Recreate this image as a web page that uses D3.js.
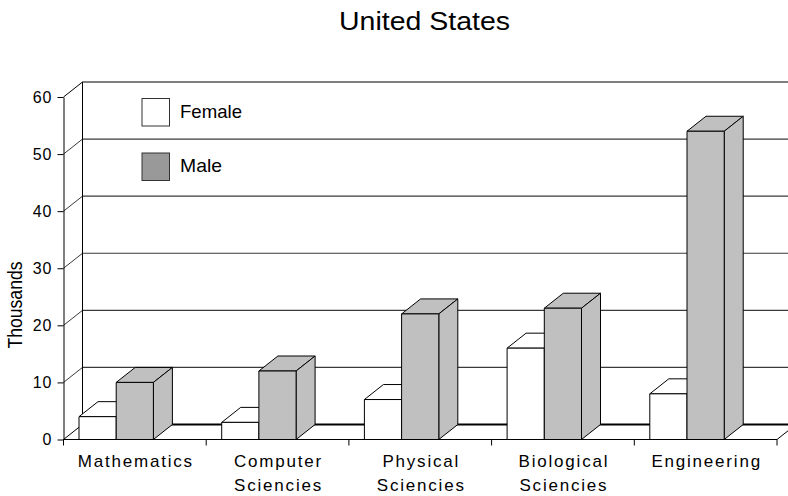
<!DOCTYPE html>
<html>
<head>
<meta charset="utf-8">
<script src="https://cdn.jsdelivr.net/npm/d3@7"></script>
<style>
  html, body { margin: 0; padding: 0; background: #fff; }
  svg { display: block; font-family: "Liberation Sans", Arial, sans-serif; }
</style>
</head>
<body>
<svg id="chart" width="788" height="496"></svg>
<script>
// Graduates by field and sex (thousands)
const categories = ["Mathematics", "Computer Sciencies", "Physical Sciencies", "Biological Sciencies", "Engineering"];
const series = ["Female", "Male"];
const female = [4, 3, 7, 16, 8];
const male = [10, 12, 22, 23, 54];
const yTicks = [0, 10, 20, 30, 40, 50, 60];
const seriesFill = { Female: "#ffffff", Male: "#c0c0c0" };
const legendFill = { Female: "#ffffff", Male: "#999999" };

const svg = d3.select("#chart");
svg.append("rect").attr("width", 788).attr("height", 496).attr("fill", "#fff");

// oblique depth offset of the 3-D box
const dx = 19, dy = -15;

const x = d3.scaleBand().domain(categories).range([63.5, 777]).paddingInner(0).paddingOuter(0);
const xs = d3.scaleBand().domain(series).range([0, x.bandwidth()])
  .paddingInner(0).paddingOuter(0.918).align(0.227);
const y = d3.scaleLinear().domain([0, 60]).range([439.5, 97]);

const y0 = y(0), yTop = y(60);
const xL = 63.5, xR = 777;

const clip = svg.append("defs").append("clipPath").attr("id", "frame")
  .append("rect").attr("x", 0).attr("y", 0).attr("width", 788).attr("height", 496);

const g = svg.append("g").attr("clip-path", "url(#frame)");

// back wall
g.append("rect")
  .attr("x", xL + dx).attr("y", yTop + dy)
  .attr("width", xR - xL + 40).attr("height", y0 - yTop)
  .attr("fill", "#fff");

// gridlines on back wall and left wall
yTicks.filter(t => t > 0 && t < 60).forEach(t => {
  const yy = y(t);
  g.append("line")
    .attr("x1", xL + dx).attr("x2", 800)
    .attr("y1", yy + dy).attr("y2", yy + dy)
    .attr("stroke", "#3a3a3a").attr("stroke-width", 1.2);
  g.append("line")
    .attr("x1", xL).attr("y1", yy).attr("x2", xL + dx).attr("y2", yy + dy)
    .attr("stroke", "#3a3a3a").attr("stroke-width", 1);
});

// top edge of back wall and left wall
g.append("line").attr("x1", xL + dx).attr("x2", 800)
  .attr("y1", yTop + dy).attr("y2", yTop + dy)
  .attr("stroke", "#000").attr("stroke-width", 1.2);
g.append("line").attr("x1", xL).attr("y1", yTop).attr("x2", xL + dx).attr("y2", yTop + dy)
  .attr("stroke", "#000").attr("stroke-width", 1);
g.append("line").attr("x1", xL + dx).attr("x2", xL + dx)
  .attr("y1", yTop + dy).attr("y2", y0 + dy)
  .attr("stroke", "#000").attr("stroke-width", 1);

// floor
g.append("path")
  .attr("d", `M${xL},${y0}L${xR},${y0}L${xR + dx},${y0 + dy}L${xL + dx},${y0 + dy}Z`)
  .attr("fill", "#fff").attr("stroke", "none");
g.append("line").attr("x1", xL + dx).attr("x2", xR + dx)
  .attr("y1", y0 + dy).attr("y2", y0 + dy)
  .attr("stroke", "#000").attr("stroke-width", 2);
g.append("line").attr("x1", xL).attr("y1", y0).attr("x2", xL + dx).attr("y2", y0 + dy)
  .attr("stroke", "#000").attr("stroke-width", 1);
g.append("line").attr("x1", xR).attr("y1", y0).attr("x2", xR + dx).attr("y2", y0 + dy)
  .attr("stroke", "#000").attr("stroke-width", 1);

// bars as oblique boxes
function box(parent, bx, w, v, fill) {
  const yv = y(v);
  const s = parent.append("g").attr("stroke", "#000").attr("stroke-width", 1)
    .attr("stroke-linejoin", "round").attr("fill", fill);
  s.append("path").attr("d",
    `M${bx},${yv}L${bx + dx},${yv + dy}L${bx + w + dx},${yv + dy}L${bx + w},${yv}Z`);
  s.append("path").attr("d",
    `M${bx + w},${yv}L${bx + w + dx},${yv + dy}L${bx + w + dx},${y0 + dy}L${bx + w},${y0}Z`);
  s.append("rect").attr("x", bx).attr("y", yv).attr("width", w).attr("height", y0 - yv);
}

const values = { Female: female, Male: male };
categories.forEach((c, i) => {
  series.forEach(sName => {
    box(g, x(c) + xs(sName), xs.bandwidth(), values[sName][i], seriesFill[sName]);
  });
});

// front floor edge
svg.append("line").attr("x1", xL).attr("x2", xR).attr("y1", y0).attr("y2", y0)
  .attr("stroke", "#000").attr("stroke-width", 1);

// category boundary ticks
const bounds = categories.map(c => x(c)).concat([xR]);
svg.selectAll("line.xtick").data(bounds).enter().append("line")
  .attr("class", "xtick")
  .attr("x1", d => d).attr("x2", d => d)
  .attr("y1", y0).attr("y2", y0 + 6)
  .attr("stroke", "#000").attr("stroke-width", 1);

// category labels
const labels = svg.append("g").attr("font-size", 17).attr("fill", "#000")
  .attr("letter-spacing", "1.8px").attr("text-anchor", "middle");
categories.forEach(c => {
  const parts = c.split(" ");
  const t = labels.append("text").attr("x", x(c) + x.bandwidth() / 2 + 1).attr("y", 467);
  parts.forEach((p, k) => {
    t.append("tspan").attr("x", x(c) + x.bandwidth() / 2 + 1).attr("dy", k === 0 ? 0 : 23.5).text(p);
  });
});

// value axis
const yAxis = d3.axisLeft(y).tickValues(yTicks).tickFormat(d3.format("d"))
  .tickSize(6).tickSizeOuter(0).tickPadding(5);
const ax = svg.append("g").attr("transform", `translate(${xL},0)`).call(yAxis);
ax.select(".domain").attr("stroke", "#000").attr("stroke-width", 1);
ax.selectAll(".tick line").attr("stroke", "#000");
ax.selectAll(".tick text").attr("font-size", 16).attr("fill", "#000")
  .attr("letter-spacing", "1px")
  .attr("font-family", "'Liberation Sans', Arial, sans-serif");

// axis title
svg.append("text")
  .attr("transform", "translate(21.5,305) rotate(-90)")
  .attr("text-anchor", "middle").attr("font-size", 20)
  .attr("textLength", 87).attr("lengthAdjust", "spacingAndGlyphs")
  .text("Thousands");

// chart title
svg.append("text").attr("x", 424.5).attr("y", 30)
  .attr("text-anchor", "middle").attr("font-size", 26)
  .attr("textLength", 171).attr("lengthAdjust", "spacingAndGlyphs")
  .text("United States");

// legend
const legend = svg.append("g");
const legendY = { Female: 98.5, Male: 153 };
series.forEach(sName => {
  legend.append("rect")
    .attr("x", 142).attr("y", legendY[sName]).attr("width", 27.5).attr("height", 27.5)
    .attr("fill", legendFill[sName]).attr("stroke", "#333").attr("stroke-width", 1);
  legend.append("text")
    .attr("x", 180).attr("y", legendY[sName] + 19)
    .attr("font-size", 19)
    .attr("textLength", sName === "Female" ? 62 : 42).attr("lengthAdjust", "spacingAndGlyphs")
    .text(sName);
});
</script>
</body>
</html>
